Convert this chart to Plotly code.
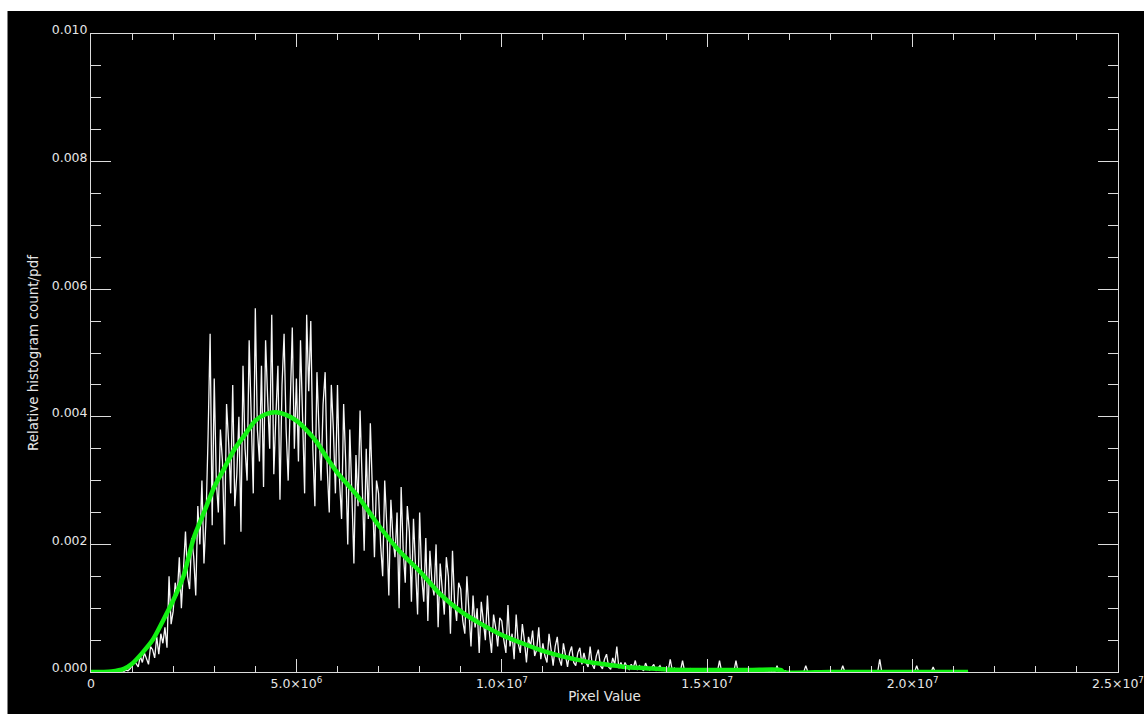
import numpy as np
import plotly.graph_objects as go

# ---------------- data ----------------
# Histogram: relative counts in units of 1e-5, one value per bin of width bin_width
bin_start = 0.0
bin_width = 5.0e4
hist_e5 = [
    0, 0, 0, 0, 0, 0, 0, 0, 0, 0, 0, 0, 0, 1, 0, 2, 1, 3, 2, 5,
    10, 18, 12, 8, 25, 15, 30, 20, 12, 40, 35, 22, 55, 28, 60, 45, 70, 38, 150, 75,
    95, 140, 120, 180, 100, 160, 220, 150, 130, 210, 180, 120, 260, 200, 300, 170, 240, 370, 530, 230,
    460, 300, 250, 380, 330, 200, 420, 360, 280, 450, 260, 310, 400, 220, 480, 350, 300, 520, 410, 280,
    570, 380, 330, 480, 290, 520, 430, 350, 560, 310, 400, 480, 270, 450, 530, 380, 300, 440, 540, 350,
    460, 330, 520, 400, 280, 560, 440, 550, 350, 260, 470, 380, 300, 420, 470, 320, 250, 450, 380, 280,
    450, 300, 240, 420, 330, 200, 380, 280, 170, 340, 260, 410, 310, 190, 350, 240, 390, 270, 180, 300,
    280, 200, 150, 300, 230, 120, 270, 210, 180, 250, 100, 290, 190, 140, 260, 220, 110, 240, 170, 90,
    250, 150, 110, 210, 80, 190, 140, 120, 200, 70, 170, 130, 90, 180, 150, 60, 190, 110, 80, 140,
    130, 80, 60, 150, 90, 40, 120, 70, 100, 30, 110, 80, 50, 120, 60, 30, 90, 70, 40, 85,
    80, 50, 30, 105, 40, 60, 20, 90, 45, 30, 75, 50, 15, 55, 40, 65, 25, 35, 70, 20,
    45, 25, 15, 60, 30, 10, 40, 55, 20, 10, 45, 25, 8, 30, 40, 15, 10, 30, 38, 12,
    30, 15, 8, 40, 12, 5, 25, 35, 10, 5, 20, 28, 8, 4, 22, 12, 40, 6, 15, 5,
    15, 8, 4, 12, 6, 18, 3, 10, 5, 2, 14, 6, 3, 8, 12, 2, 6, 10, 3, 7,
    5, 1, 20, 2, 6, 1, 4, 2, 18, 1, 3, 2, 5, 1, 3, 1, 4, 1, 2, 1,
    3, 1, 2, 1, 4, 1, 18, 1, 2, 1, 3, 1, 2, 1, 18, 1, 2, 1, 3, 1,
    2, 0, 1, 0, 3, 0, 1, 0, 2, 0, 1, 0, 2, 0, 10, 0, 1, 0, 2, 0,
    0, 0, 1, 0, 0, 0, 0, 0, 10, 0, 0, 0, 0, 0, 0, 0, 0, 0, 0, 0,
    0, 0, 0, 0, 0, 0, 10, 0, 0, 0, 0, 0, 0, 0, 0, 0, 0, 0, 0, 0,
    0, 0, 0, 0, 20, 0, 0, 0, 0, 0, 0, 0, 0, 0, 0, 0, 0, 0, 0, 0,
    0, 0, 10, 0, 0, 0, 0, 0, 0, 0, 8, 0, 0, 0, 0, 0, 0, 0, 0, 0,
    0, 0, 0, 0, 0, 0, 0, 0,
]

# Fitted pdf (green curve): x in pixel-value units, y in units of 1e-5
pdf_x = [0, 0.5e6, 0.8e6, 1.0e6, 1.25e6, 1.5e6, 1.75e6, 2.0e6, 2.25e6, 2.5e6,
         2.75e6, 3.0e6, 3.25e6, 3.5e6, 3.75e6, 4.0e6, 4.25e6, 4.5e6, 4.75e6, 5.0e6,
         5.25e6, 5.5e6, 5.75e6, 6.0e6, 6.5e6, 7.0e6, 7.5e6, 8.0e6, 8.5e6, 9.0e6,
         9.5e6, 10.0e6, 10.5e6, 11.0e6, 11.5e6, 12.0e6, 12.5e6, 13.0e6, 13.5e6, 14.0e6,
         15.0e6, 16.0e6, 16.8e6, 16.85e6, 18.0e6, 19.0e6, 20.0e6, 21.35e6]
pdf_e5 = [0, 1, 5, 13, 30, 50, 80, 112, 150, 210,
          250, 290, 320, 350, 372, 394, 404, 407, 403, 394,
          379, 360, 335, 312, 275, 230, 190, 158, 122, 95,
          75, 58, 45, 33, 24, 17, 12, 8, 6, 4,
          3, 3, 3, 0, 0, 0, 0, 0]

x_tick_vals = [0, 5e6, 1e7, 1.5e7, 2e7, 2.5e7]
x_tick_text = ["0", "5.0×10<sup>6</sup>", "1.0×10<sup>7</sup>", "1.5×10<sup>7</sup>",
               "2.0×10<sup>7</sup>", "2.5×10<sup>7</sup>"]

# ---------------- figure ----------------
hist_y = np.array(hist_e5) * 1e-5
pdf_y = np.array(pdf_e5) * 1e-5

fig = go.Figure()
fig.add_trace(go.Scatter(
    x0=bin_start, dx=bin_width, y=hist_y, mode="lines",
    line=dict(color="#f6f6f6", width=1.3), showlegend=False, hoverinfo="skip"))
fig.add_trace(go.Scatter(
    x=pdf_x, y=pdf_y, mode="lines",
    line=dict(color="#12f012", width=4.5, shape="spline", smoothing=0.8),
    showlegend=False, hoverinfo="skip"))

axis_col = "#dcdcdc"
tick_font = dict(family="DejaVu Sans", size=12.5, color="#e6e6e6")
title_font = dict(family="DejaVu Sans", size=13.5, color="#e6e6e6")

fig.update_xaxes(
    range=[0, 2.5e7], tickmode="array", tickvals=x_tick_vals, ticktext=x_tick_text,
    ticks="inside", ticklen=13, tickwidth=1, tickcolor=axis_col,
    minor=dict(dtick=1e6, tick0=0, ticks="inside", ticklen=6, tickcolor=axis_col, tickwidth=1),
    showline=True, linecolor=axis_col, linewidth=1, mirror="ticks",
    showgrid=False, zeroline=False, tickfont=tick_font,
    title=dict(text="Pixel Value", font=title_font, standoff=1))
fig.update_yaxes(
    range=[0, 0.010], tickmode="linear", tick0=0, dtick=0.002, tickformat=".3f",
    ticks="inside", ticklen=20, tickwidth=1, tickcolor=axis_col,
    minor=dict(dtick=0.0005, tick0=0, ticks="inside", ticklen=10, tickcolor=axis_col, tickwidth=1),
    showline=True, linecolor=axis_col, linewidth=1, mirror="ticks",
    showgrid=False, zeroline=False, tickfont=tick_font, ticklabelshift=-4,
    title=dict(text="Relative histogram count/pdf", font=title_font, standoff=9))

# white border strips of the original screenshot (top and left)
W, H = 1144, 714
ml, mr, mt, mb = 91, 26, 34, 42
pw, ph = W - ml - mr, H - mt - mb
def px(xp):
    return (xp - ml) / pw
def py(yp):
    return (H - mb - yp) / ph

fig.add_shape(type="rect", xref="paper", yref="paper",
              x0=px(-5), x1=px(W + 5), y0=py(11), y1=py(-5),
              fillcolor="white", line=dict(width=0), layer="above")
fig.add_shape(type="rect", xref="paper", yref="paper",
              x0=px(-5), x1=px(7.5), y0=py(H + 5), y1=py(-5),
              fillcolor="white", line=dict(width=0), layer="above")

fig.update_layout(
    width=W, height=H,
    margin=dict(l=ml, r=mr, t=mt, b=mb, autoexpand=False),
    paper_bgcolor="black", plot_bgcolor="black",
    font=tick_font, showlegend=False)

fig.write_html("out.html")
